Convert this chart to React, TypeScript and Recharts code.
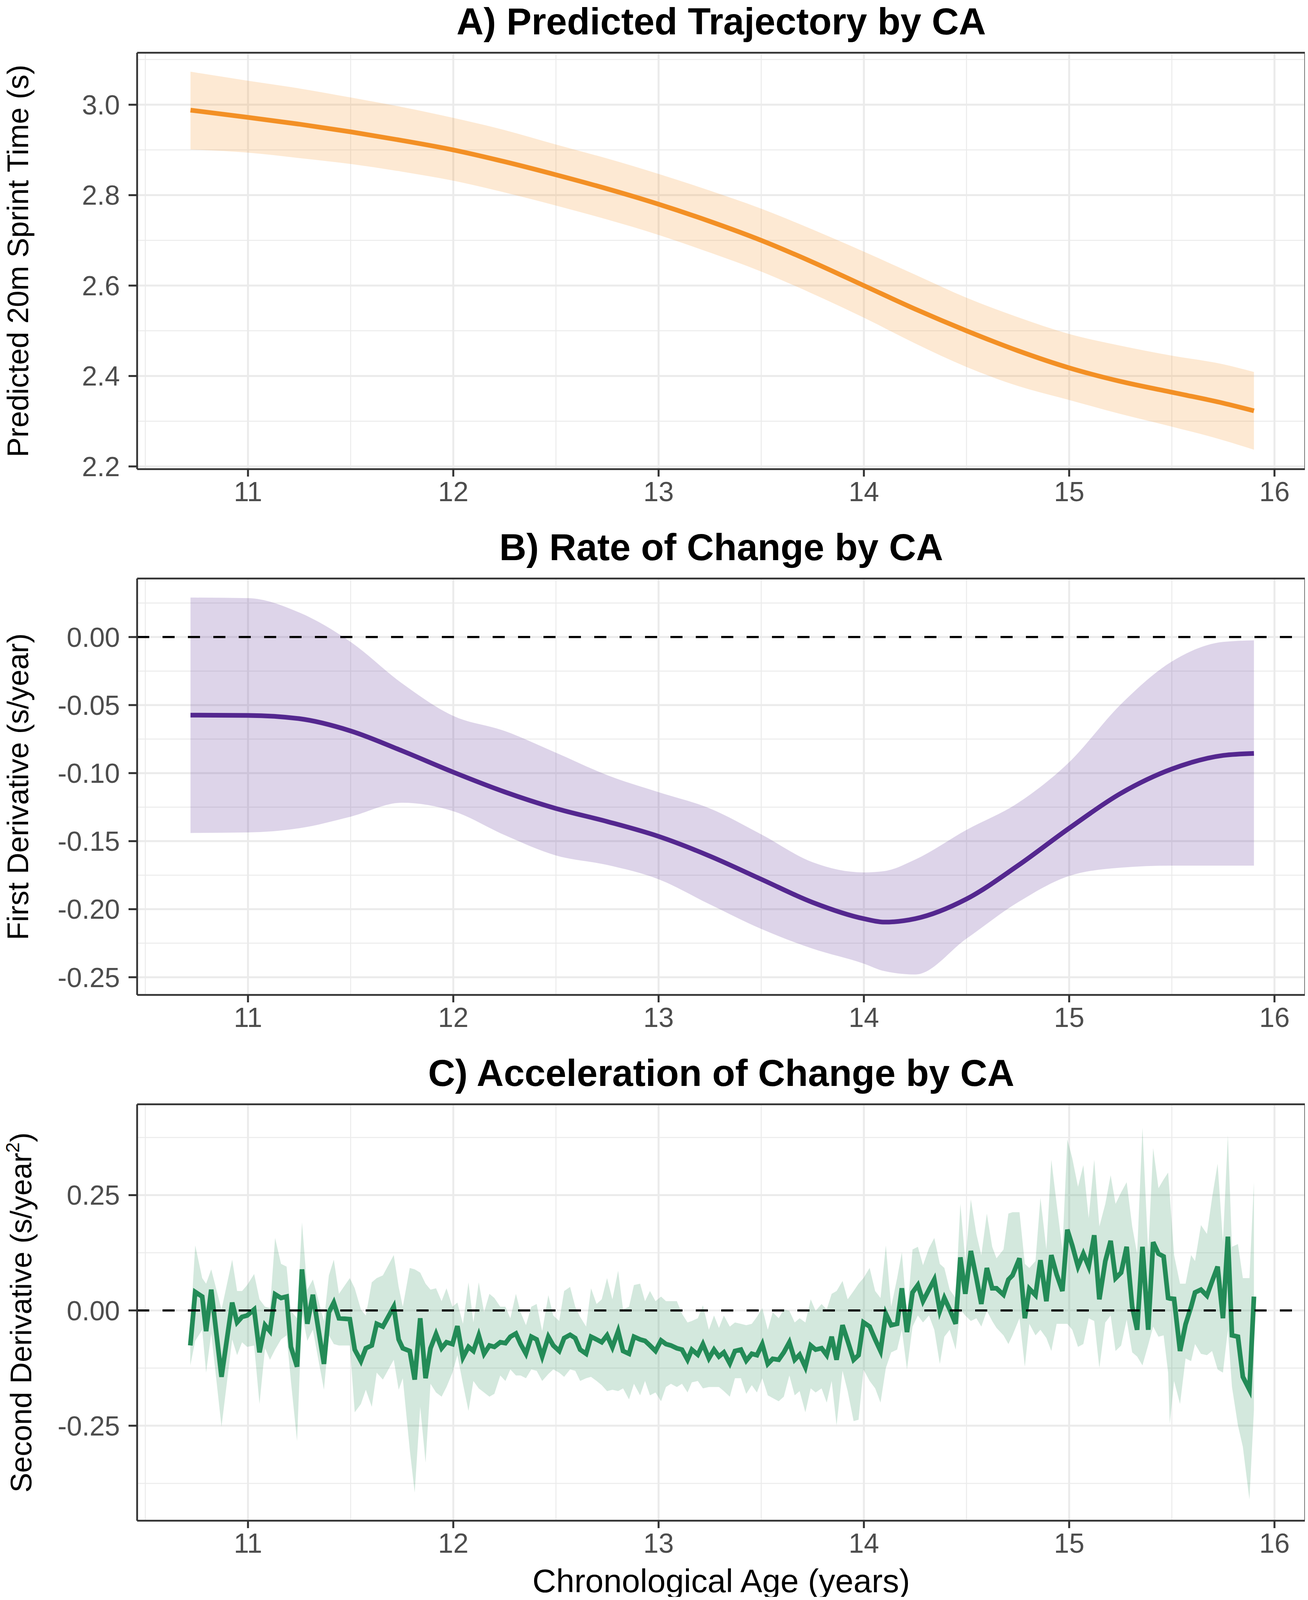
import { ComposedChart, Line, Area, XAxis, YAxis, CartesianGrid, ReferenceLine } from 'recharts';

// x axis (chronological age), shared by the three panels
const ageTicks = [11, 12, 13, 14, 15, 16];
const ageMinor = [10.5, 11.5, 12.5, 13.5, 14.5, 15.5];
const ageDomain: [number, number] = [10.46, 16.15];

// A) predicted trajectory
const ageA = [10.72, 11.0, 11.25, 11.5, 11.75, 12.0, 12.25, 12.5, 12.75, 13.0, 13.25, 13.5, 13.75, 14.0, 14.25, 14.5, 14.75, 15.0, 15.25, 15.5, 15.75, 15.9];
const fitA = [2.988, 2.972, 2.957, 2.94, 2.921, 2.9, 2.874, 2.845, 2.814, 2.78, 2.742, 2.7, 2.652, 2.6, 2.548, 2.5, 2.456, 2.418, 2.388, 2.364, 2.34, 2.323];
const loA = [2.901, 2.894, 2.882, 2.869, 2.852, 2.832, 2.806, 2.777, 2.746, 2.712, 2.673, 2.631, 2.582, 2.529, 2.472, 2.42, 2.378, 2.347, 2.316, 2.288, 2.258, 2.237];
const hiA = [3.073, 3.053, 3.036, 3.016, 2.995, 2.971, 2.944, 2.912, 2.881, 2.847, 2.81, 2.77, 2.724, 2.675, 2.624, 2.573, 2.53, 2.493, 2.467, 2.445, 2.426, 2.409];
const yTicksA = [2.2, 2.4, 2.6, 2.8, 3.0];
const yMinorA = [2.3, 2.5, 2.7, 2.9, 3.1];

// B) first derivative
const ageB = [10.72, 11.0, 11.25, 11.5, 11.75, 12.0, 12.25, 12.5, 12.75, 13.0, 13.25, 13.5, 13.75, 14.0, 14.1, 14.25, 14.5, 14.75, 15.0, 15.25, 15.5, 15.75, 15.9];
const fitB = [-0.0574, -0.0576, -0.06, -0.069, -0.0836, -0.0993, -0.1138, -0.126, -0.1356, -0.1465, -0.161, -0.178, -0.195, -0.207, -0.2095, -0.207, -0.1925, -0.168, -0.1405, -0.115, -0.097, -0.087, -0.0855];
const loB = [-0.144, -0.1436, -0.1405, -0.132, -0.1218, -0.128, -0.1455, -0.1605, -0.1675, -0.178, -0.1965, -0.2145, -0.229, -0.24, -0.2455, -0.248, -0.2216, -0.195, -0.1756, -0.1695, -0.168, -0.168, -0.168];
const hiB = [0.029, 0.0286, 0.018, -0.0036, -0.034, -0.058, -0.069, -0.085, -0.1015, -0.114, -0.126, -0.145, -0.1655, -0.173, -0.172, -0.1635, -0.1417, -0.122, -0.092, -0.0497, -0.018, -0.0036, -0.0024];
const yTicksB = [-0.25, -0.2, -0.15, -0.1, -0.05, 0];
const yMinorB = [-0.225, -0.175, -0.125, -0.075, -0.025, 0.025];

// C) second derivative
const ageC = [
  10.719, 10.743, 10.777, 10.796, 10.821, 10.871, 10.923, 10.947, 10.971, 10.996,
  11.03, 11.056, 11.083, 11.107, 11.132, 11.161, 11.188, 11.209, 11.239, 11.263,
  11.289, 11.316, 11.37, 11.394, 11.418, 11.443, 11.496, 11.52, 11.55, 11.574,
  11.603, 11.627, 11.657, 11.71, 11.734, 11.754, 11.788, 11.812, 11.839, 11.865,
  11.889, 11.916, 11.943, 11.967, 11.996, 12.02, 12.047, 12.074, 12.098, 12.124,
  12.15, 12.176, 12.2, 12.229, 12.254, 12.278, 12.305, 12.328, 12.354, 12.38,
  12.406, 12.433, 12.463, 12.487, 12.516, 12.54, 12.569, 12.594, 12.618, 12.647,
  12.671, 12.698, 12.723, 12.749, 12.775, 12.803, 12.827, 12.856, 12.88, 12.91,
  12.934, 12.958, 12.985, 13.012, 13.036, 13.06, 13.089, 13.114, 13.141, 13.162,
  13.191, 13.216, 13.245, 13.27, 13.294, 13.318, 13.347, 13.372, 13.401, 13.427,
  13.454, 13.479, 13.505, 13.532, 13.556, 13.585, 13.61, 13.637, 13.663, 13.687,
  13.715, 13.741, 13.765, 13.794, 13.819, 13.843, 13.867, 13.896, 13.921, 13.95,
  13.974, 13.998, 14.028, 14.055, 14.081, 14.107, 14.133, 14.162, 14.185, 14.21,
  14.237, 14.263, 14.288, 14.317, 14.343, 14.37, 14.392, 14.418, 14.447, 14.47,
  14.494, 14.521, 14.548, 14.572, 14.599, 14.625, 14.646, 14.68, 14.704, 14.724,
  14.758, 14.784, 14.806, 14.836, 14.86, 14.889, 14.913, 14.939, 14.967, 14.991,
  15.015, 15.043, 15.069, 15.095, 15.122, 15.147, 15.176, 15.202, 15.226, 15.253,
  15.28, 15.307, 15.331, 15.357, 15.385, 15.409, 15.435, 15.46, 15.482, 15.49,
  15.511, 15.54, 15.567, 15.594, 15.613, 15.642, 15.671, 15.696, 15.723, 15.749,
  15.773, 15.793, 15.822, 15.846, 15.878, 15.9,
];
const fitC = [
  -0.076, 0.04, 0.03, -0.045, 0.045, -0.144, 0.017, -0.026, -0.014, -0.011,
  0.002, -0.091, -0.032, -0.045, 0.035, 0.027, 0.03, -0.079, -0.122, 0.089,
  -0.029, 0.034, -0.116, -0.004, 0.017, -0.017, -0.019, -0.085, -0.11, -0.082,
  -0.076, -0.029, -0.035, 0.008, -0.063, -0.082, -0.088, -0.15, -0.017, -0.147,
  -0.082, -0.051, -0.082, -0.069, -0.073, -0.034, -0.102, -0.079, -0.088, -0.054,
  -0.094, -0.076, -0.079, -0.069, -0.071, -0.057, -0.05, -0.073, -0.094, -0.057,
  -0.063, -0.1, -0.057, -0.076, -0.088, -0.06, -0.053, -0.06, -0.085, -0.094,
  -0.057, -0.063, -0.069, -0.054, -0.08, -0.045, -0.088, -0.094, -0.057, -0.063,
  -0.066, -0.076, -0.088, -0.065, -0.073, -0.076, -0.082, -0.085, -0.107, -0.085,
  -0.096, -0.073, -0.104, -0.085, -0.1, -0.091, -0.115, -0.088, -0.085, -0.109,
  -0.094, -0.097, -0.073, -0.116, -0.105, -0.107, -0.091, -0.069, -0.107, -0.096,
  -0.123, -0.076, -0.085, -0.082, -0.097, -0.057, -0.107, -0.032, -0.066, -0.107,
  -0.097, -0.026, -0.035, -0.063, -0.088, -0.007, -0.032, -0.029, 0.048, -0.047,
  0.039, 0.055, 0.02, 0.045, 0.067, -0.001, 0.027, 0.002, -0.029, 0.115,
  0.036, 0.129, 0.07, 0.014, 0.092, 0.048, 0.048, 0.034, 0.067, 0.076,
  0.113, -0.017, 0.047, 0.033, 0.109, 0.02, 0.12, 0.078, 0.042, 0.175,
  0.141, 0.095, 0.123, 0.095, 0.163, 0.024, 0.107, 0.151, 0.07, 0.082,
  0.138, 0.008, -0.042, 0.138, -0.042, 0.148, 0.123, 0.117, 0.027, 0.026,
  0.025, -0.088, -0.03, 0.008, 0.039, 0.045, 0.032, 0.063, 0.095, -0.017,
  0.16, -0.054, -0.057, -0.144, -0.172, 0.03,
];
const loC = [
  -0.119, -0.066, -0.042, -0.135, -0.05, -0.252, -0.063, -0.097, -0.069, -0.079,
  -0.076, -0.203, -0.082, -0.107, -0.085, -0.063, -0.054, -0.153, -0.283, -0.007,
  -0.066, -0.042, -0.172, -0.054, -0.073, -0.076, -0.076, -0.221, -0.203, -0.172,
  -0.209, -0.135, -0.15, -0.107, -0.172, -0.147, -0.302, -0.395, -0.209, -0.33,
  -0.159, -0.178, -0.187, -0.166, -0.135, -0.097, -0.159, -0.218, -0.153, -0.169,
  -0.178, -0.187, -0.181, -0.141, -0.153, -0.128, -0.141, -0.141, -0.147, -0.128,
  -0.131, -0.153, -0.138, -0.128, -0.135, -0.144, -0.128, -0.131, -0.153, -0.147,
  -0.144, -0.153, -0.162, -0.175, -0.172, -0.175, -0.169, -0.193, -0.159, -0.184,
  -0.153, -0.184, -0.178, -0.197, -0.166, -0.159, -0.166, -0.159, -0.178, -0.156,
  -0.153, -0.169, -0.166, -0.166, -0.166, -0.175, -0.187, -0.147, -0.147, -0.181,
  -0.162, -0.178, -0.147, -0.184, -0.19, -0.197, -0.187, -0.141, -0.184, -0.175,
  -0.221, -0.169, -0.178, -0.169, -0.2, -0.153, -0.249, -0.131, -0.175, -0.24,
  -0.237, -0.128, -0.153, -0.169, -0.2, -0.125, -0.091, -0.085, -0.042, -0.128,
  -0.035, -0.011, -0.026, -0.011, -0.042, -0.116, -0.057, -0.042, -0.085, 0.002,
  -0.011, -0.023, -0.017, -0.035, -0.001, -0.023, -0.038, -0.054, -0.073, -0.054,
  -0.017, -0.122, -0.029, -0.054, -0.042, -0.06, -0.088, -0.029, -0.029, -0.029,
  -0.042, -0.079, -0.073, -0.017, -0.023, -0.125, -0.026, -0.011, -0.088, -0.076,
  -0.02, -0.091, -0.1, -0.119, -0.075, -0.035, -0.057, -0.054, -0.135, -0.246,
  -0.153, -0.203, -0.104, -0.11, -0.073, -0.094, -0.097, -0.088, -0.128, -0.135,
  -0.042, -0.166, -0.249, -0.296, -0.41, -0.215,
];
const hiC = [
  -0.035, 0.141, 0.07, 0.058, 0.089, 0.002, 0.11, 0.042, 0.042, 0.055,
  0.079, 0.024, 0.008, 0.005, 0.157, 0.101, 0.095, -0.001, -0.017, 0.191,
  0.045, 0.067, -0.023, 0.076, 0.11, 0.036, 0.07, 0.048, 0.002, -0.011,
  0.061, 0.07, 0.076, 0.12, 0.051, 0.008, 0.092, 0.089, 0.082, 0.058,
  0.045, 0.048, 0.02, 0.048, 0.008, 0.017, -0.029, 0.061, -0.026, 0.061,
  -0.004, 0.036, 0.027, 0.008, 0.008, -0.017, 0.036, -0.004, -0.032, 0.008,
  0.014, -0.045, 0.033, -0.011, -0.023, 0.042, 0.051, 0.008, -0.014, -0.035,
  0.048, 0.014, 0.024, 0.07, 0.024, 0.086, 0.002, 0.008, 0.055, 0.058,
  0.02, 0.042, 0.02, 0.03, 0.02, 0.02, 0.02, -0.007, -0.026, -0.023,
  -0.017, 0.011, -0.042, -0.011, -0.038, -0.011, -0.035, -0.026, -0.029, -0.032,
  -0.029, -0.014, 0.005, -0.042, -0.004, -0.017, 0.002, -0.001, -0.026, -0.017,
  -0.026, 0.024, -0.001, 0.014, 0.002, 0.036, 0.042, 0.064, 0.024, 0.042,
  0.058, 0.07, 0.092, 0.042, 0.027, 0.141, 0.008, 0.07, 0.126, -0.011,
  0.132, 0.138, 0.098, 0.135, 0.157, 0.101, 0.092, 0.045, 0.027, 0.231,
  0.107, 0.241, 0.166, 0.12, 0.21, 0.138, 0.113, 0.132, 0.21, 0.213,
  0.213, 0.101, 0.092, 0.107, 0.244, 0.132, 0.327, 0.231, 0.132, 0.371,
  0.33, 0.268, 0.315, 0.2, 0.327, 0.182, 0.231, 0.293, 0.231, 0.256,
  0.278, 0.182, 0.123, 0.396, 0.126, 0.352, 0.265, 0.284, 0.299, 0.25,
  0.12, 0.058, 0.058, 0.12, 0.107, 0.185, 0.166, 0.244, 0.318, 0.148,
  0.38, 0.138, 0.144, 0.07, 0.07, 0.278,
];
const yTicksC = [-0.25, 0, 0.25];
const yMinorC = [-0.375, -0.125, 0.125, 0.375];

const FONT = '"Liberation Sans", Arial, Helvetica, sans-serif';
// the browser only shows 4096px of height, so the figure is laid out to fit it
const W = 3348;
const H = 4096;
const PLOT_LEFT = 351;
const PLOT_RIGHT_PAD = 7;
const GRID = '#EBEBEB';
const INK = '#333333';

type PanelProps = {
  top: number;
  height: number;
  plotTop: number;
  plotBottom: number;
  ages: number[];
  fit: number[];
  lo: number[];
  hi: number[];
  yDomain: [number, number];
  yTicks: number[];
  yMinor: number[];
  digits: number;
  color: string;
  curve: 'monotone' | 'linear';
  zeroLine?: boolean;
};

function Panel(p: PanelProps) {
  const data = p.ages.map((age, i) => ({ age, fit: p.fit[i], band: [p.lo[i], p.hi[i]] }));
  const tickStyle = { fontSize: 70, fill: '#4D4D4D', fontFamily: FONT };
  const tickLine = { stroke: INK, strokeWidth: 5 };
  const border = { stroke: INK, strokeWidth: 4.5 };
  return (
    <div style={{ position: 'absolute', left: 0, top: p.top }}>
      <ComposedChart
        width={W}
        height={p.height}
        data={data}
        margin={{ top: p.plotTop, right: PLOT_RIGHT_PAD, bottom: 0, left: 0 }}
      >
        <XAxis xAxisId="minor" type="number" dataKey="age" domain={ageDomain} ticks={ageMinor} allowDataOverflow hide />
        <YAxis yAxisId="minor" type="number" domain={p.yDomain} ticks={p.yMinor} allowDataOverflow hide />
        <CartesianGrid xAxisId="minor" yAxisId="minor" stroke={GRID} strokeWidth={2.5} />
        <CartesianGrid stroke={GRID} strokeWidth={5} />
        <XAxis
          type="number"
          dataKey="age"
          domain={ageDomain}
          ticks={ageTicks}
          allowDataOverflow
          height={p.height - p.plotBottom}
          tick={tickStyle}
          tickLine={tickLine}
          tickSize={19}
          tickMargin={13}
          axisLine={border}
        />
        <YAxis
          type="number"
          domain={p.yDomain}
          ticks={p.yTicks}
          allowDataOverflow
          width={PLOT_LEFT}
          tick={tickStyle}
          tickLine={tickLine}
          tickSize={22}
          tickMargin={22}
          axisLine={border}
          tickFormatter={(v: number) => v.toFixed(p.digits)}
        />
        <Area
          type={p.curve}
          dataKey="band"
          stroke="none"
          fill={p.color}
          fillOpacity={0.2}
          isAnimationActive={false}
        />
        <Line
          type={p.curve}
          dataKey="fit"
          stroke={p.color}
          strokeWidth={12}
          dot={false}
          activeDot={false}
          isAnimationActive={false}
        />
        {p.zeroLine && <ReferenceLine y={0} stroke="#000000" strokeWidth={5.5} strokeDasharray="31 34" />}
        <ReferenceLine y={p.yDomain[1]} {...border} />
        <ReferenceLine x={ageDomain[1]} {...border} />
      </ComposedChart>
    </div>
  );
}

export default function App() {
  const cx = PLOT_LEFT + (W - PLOT_LEFT - PLOT_RIGHT_PAD) / 2;
  const titleStyle = { fontSize: 96, fontWeight: 700, fontFamily: FONT, fill: '#000' };
  const axisTitle = { fontSize: 76, fontFamily: FONT, fill: '#000' };
  return (
    <div style={{ position: 'relative', margin: -8, width: W, height: H, background: '#fff', overflow: 'hidden' }}>
      <Panel
        top={0}
        height={1341}
        plotTop={135}
        plotBottom={1201}
        ages={ageA}
        fit={fitA}
        lo={loA}
        hi={hiA}
        yDomain={[2.194, 3.115]}
        yTicks={yTicksA}
        yMinor={yMinorA}
        digits={1}
        color="#F39025"
        curve="monotone"
      />
      <Panel
        top={1341}
        height={1346}
        plotTop={140}
        plotBottom={1206}
        ages={ageB}
        fit={fitB}
        lo={loB}
        hi={hiB}
        yDomain={[-0.263, 0.043]}
        yTicks={yTicksB}
        yMinor={yMinorB}
        digits={2}
        color="#54278F"
        curve="monotone"
        zeroLine
      />
      <Panel
        top={2687}
        height={1409}
        plotTop={140}
        plotBottom={1206}
        ages={ageC}
        fit={fitC}
        lo={loC}
        hi={hiC}
        yDomain={[-0.456, 0.447]}
        yTicks={yTicksC}
        yMinor={yMinorC}
        digits={2}
        color="#238B57"
        curve="linear"
        zeroLine
      />
      <svg width={W} height={H} style={{ position: 'absolute', left: 0, top: 0, pointerEvents: 'none' }}>
        <text x={cx} y={88} textAnchor="middle" {...titleStyle}>A) Predicted Trajectory by CA</text>
        <text x={cx} y={1434} textAnchor="middle" {...titleStyle}>B) Rate of Change by CA</text>
        <text x={cx} y={2780} textAnchor="middle" {...titleStyle}>C) Acceleration of Change by CA</text>
        <text x={72} y={668} transform="rotate(-90 72 668)" textAnchor="middle" {...axisTitle}>
          Predicted 20m Sprint Time (s)
        </text>
        <text x={72} y={2014} transform="rotate(-90 72 2014)" textAnchor="middle" {...axisTitle}>
          First Derivative (s/year)
        </text>
        <text x={80} y={3360} transform="rotate(-90 80 3360)" textAnchor="middle" {...axisTitle}>
          Second Derivative (s/year
          <tspan fontSize={48} dy={-31}>2</tspan>
          <tspan dy={31}>)</tspan>
        </text>
        <text x={cx} y={4076} textAnchor="middle" fontSize={84} fontFamily={FONT} fill="#000">
          Chronological Age (years)
        </text>
      </svg>
    </div>
  );
}
